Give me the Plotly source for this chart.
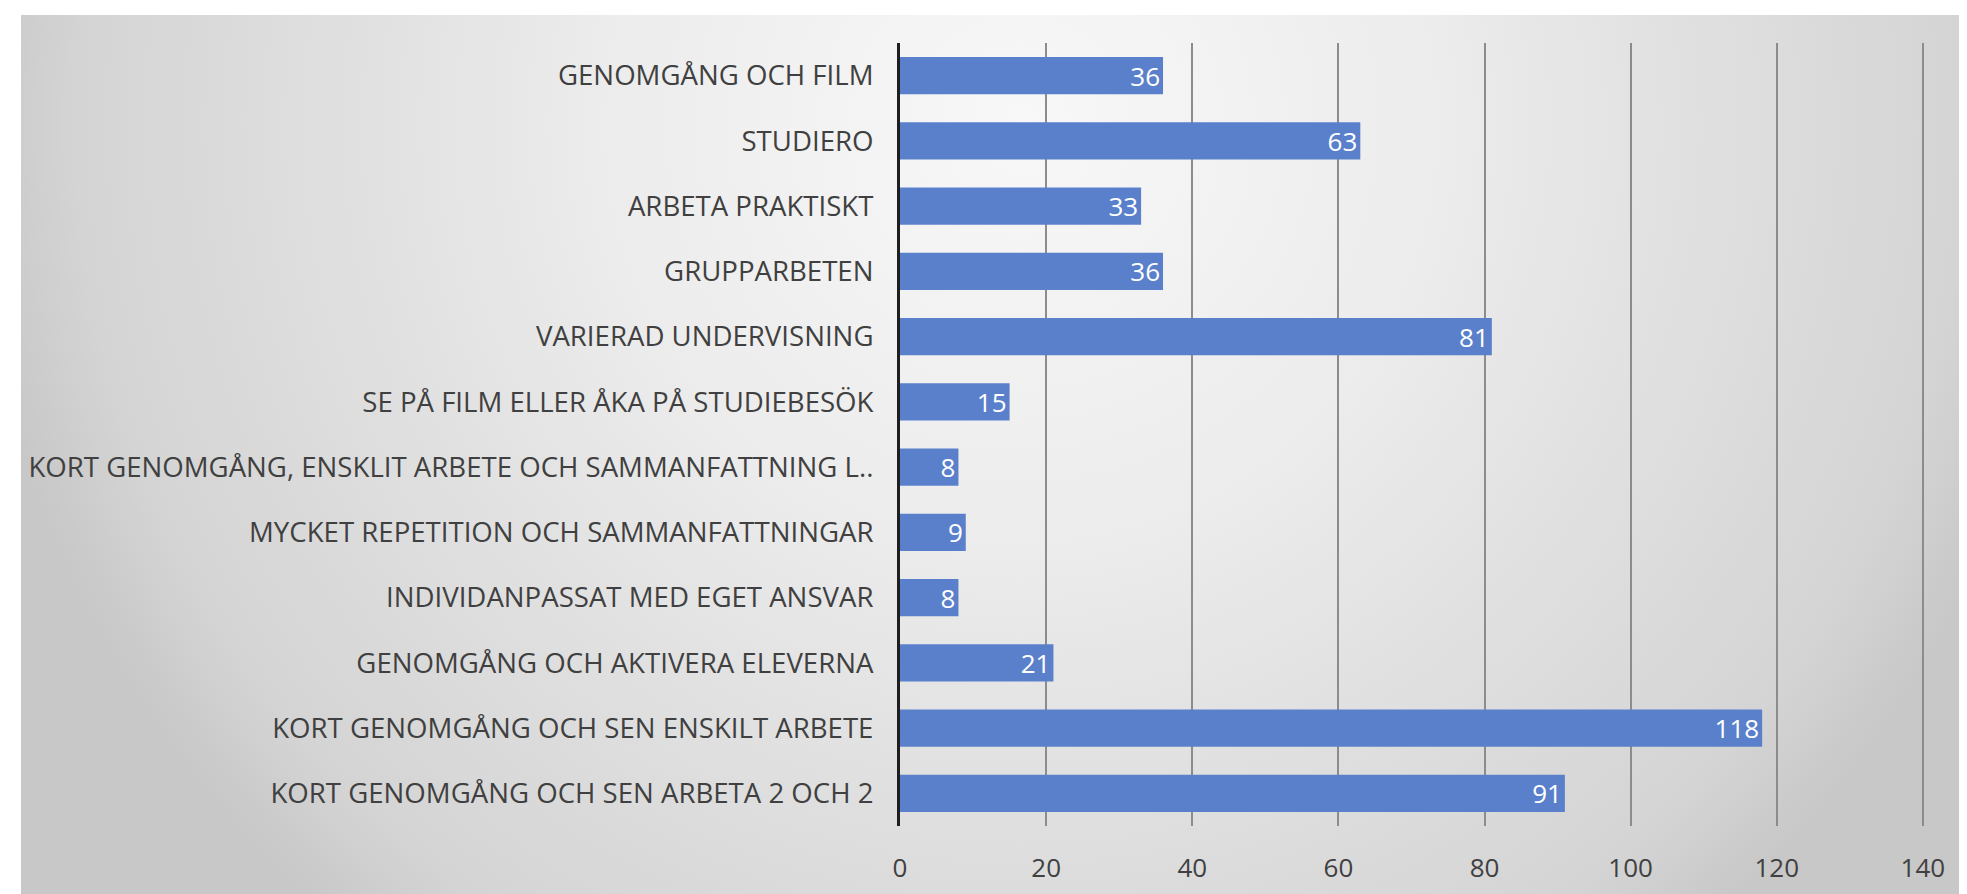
import base64
import plotly.graph_objects as go

categories = [
    "GENOMGÅNG OCH FILM",
    "STUDIERO",
    "ARBETA PRAKTISKT",
    "GRUPPARBETEN",
    "VARIERAD UNDERVISNING",
    "SE PÅ FILM ELLER ÅKA PÅ STUDIEBESÖK",
    "KORT GENOMGÅNG, ENSKLIT ARBETE OCH SAMMANFATTNING L..",
    "MYCKET REPETITION OCH SAMMANFATTNINGAR",
    "INDIVIDANPASSAT MED EGET ANSVAR",
    "GENOMGÅNG OCH AKTIVERA ELEVERNA",
    "KORT GENOMGÅNG OCH SEN ENSKILT ARBETE",
    "KORT GENOMGÅNG OCH SEN ARBETA 2 OCH 2",
]
values = [36, 63, 33, 36, 81, 15, 8, 9, 8, 21, 118, 91]
x_ticks = [0, 20, 40, 60, 80, 100, 120, 140]

W, H = 1967, 894
L, R, T, B = 892, 51, 35, 76
pw, ph = W - L - R, H - T - B

svg = f'''<svg xmlns="http://www.w3.org/2000/svg" width="{W-13}" height="{H-7}" viewBox="0 0 {W-13} {H-7}" preserveAspectRatio="none">
<defs><radialGradient id="g" gradientUnits="userSpaceOnUse" cx="1000" cy="110" r="1050">
<stop offset="0" stop-color="#f8f8f8"/>
<stop offset="0.4" stop-color="#ececec"/>
<stop offset="0.6" stop-color="#e2e2e2"/>
<stop offset="0.9" stop-color="#d4d4d4"/>
<stop offset="1" stop-color="#c8c8c8"/>
</radialGradient></defs>
<rect x="0" y="0" width="{W-13}" height="{H-7}" fill="url(#g)"/>
</svg>'''
src = "data:image/svg+xml;base64," + base64.b64encode(svg.encode()).decode()

font = "Open Sans, Lato, DejaVu Sans, sans-serif"

fig = go.Figure(go.Bar(
    y=categories, x=values, orientation="h",
    marker=dict(color="#5b80cb", line=dict(width=0)),
    text=[str(v) for v in values], textposition="inside", insidetextanchor="end",
    textangle=0,
    textfont=dict(color="white", size=26, family=font),
    constraintext="none", cliponaxis=False,
))

fig.update_layout(
    width=W, height=H,
    margin=dict(l=L, r=R, t=T, b=B, pad=0, autoexpand=False),
    paper_bgcolor="white", plot_bgcolor="rgba(0,0,0,0)",
    bargap=0.43, showlegend=False,
    uniformtext=dict(minsize=26, mode="show"),
    font=dict(family=font, color="#404040"),
    images=[dict(
        source=src, xref="paper", yref="paper",
        x=(13 - L) / pw, y=1 + (T - 7) / ph,
        sizex=(W - 13) / pw, sizey=(H - 7) / ph,
        xanchor="left", yanchor="top", sizing="stretch", layer="below",
    )],
    xaxis=dict(
        range=[0, 140.15], tickvals=x_ticks, showgrid=True, gridcolor="#8c8c8c", gridwidth=1.5,
        zeroline=False, showline=False, ticks="", automargin=False,
        tickfont=dict(size=26, color="#404040"), ticklabelstandoff=24,
    ),
    yaxis=dict(
        autorange="reversed", showgrid=False, showline=True, linecolor="#1e1e1e", linewidth=3,
        ticks="", automargin=False,
        tickfont=dict(size=27.6, color="#404040"), ticklabelstandoff=18,
    ),
)

fig.write_html("out.html")
